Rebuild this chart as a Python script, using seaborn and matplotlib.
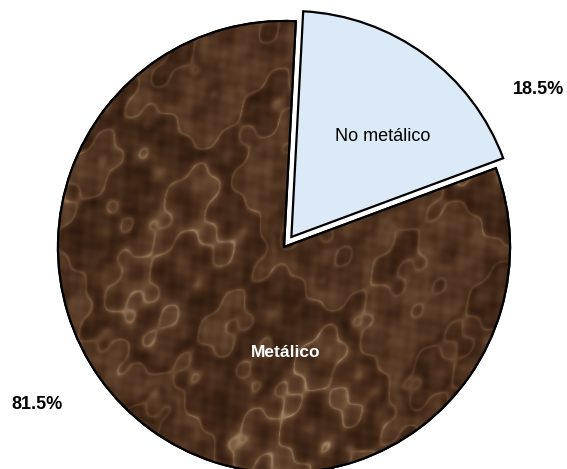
import numpy as np
import matplotlib
matplotlib.use("Agg")
import matplotlib.pyplot as plt
import seaborn as sns
from matplotlib.colors import LinearSegmentedColormap
from matplotlib.patches import Wedge

categories = ["Metálico", "No metálico"]
values = [81.5, 18.5]
pct_labels = ["81.5%", "18.5%"]

sns.set_theme(style="white")
plt.rcParams['font.family'] = ['Liberation Sans', 'DejaVu Sans']

fig = plt.figure(figsize=(5.67, 4.69), dpi=100)
ax = fig.add_axes([0, 0, 1, 1])

colors = ["#5a3d28", "#dce9f7"]
wedges, _ = ax.pie(values, colors=colors, startangle=87, counterclock=True,
                   explode=[0, 0.055],
                   wedgeprops=dict(edgecolor="black", linewidth=1.6))

# marble-like texture for the metallic slice (decorative, deterministic)
xx, yy = np.meshgrid(np.linspace(-1.1, 1.1, 500), np.linspace(-1.1, 1.1, 500))
f = (np.sin(3.1 * xx + 2.3 * yy) + 0.7 * np.sin(5.7 * xx - 4.1 * yy + 1.3)
     + 0.5 * np.sin(9.3 * xx + 7.7 * yy + 0.4) + 0.35 * np.sin(17.1 * xx - 13.3 * yy + 2.1)
     + 0.25 * np.sin(29.0 * xx + 23.0 * yy + 0.9) + 0.2 * np.sin(41.0 * xx - 37.0 * yy + 1.7))
g = (0.5 * np.sin(23.0 * xx + 11.0 * yy) * np.sin(19.0 * yy - 7.0 * xx + 0.5)
     + 0.3 * np.sin(47.0 * xx - 31.0 * yy) * np.sin(37.0 * yy + 29.0 * xx)
     + 0.2 * np.sin(83.0 * xx + 61.0 * yy) * np.sin(71.0 * yy - 53.0 * xx))
veins = 1 - np.abs(np.sin(2.2 * f))
tex = 0.35 * veins ** 4 + 0.4 * (g + 1) / 2 + 0.25 * (np.sin(3 * f) + 1) / 2
cmap = LinearSegmentedColormap.from_list("marble", ["#2e1a0e", "#4a2f1d", "#6a4c34", "#a68868"])
im = ax.imshow(tex, extent=(-1.1, 1.1, -1.1, 1.1), cmap=cmap, origin="lower",
               interpolation="bilinear", zorder=1.5)
im.set_clip_path(wedges[0])
wedges[0].set_zorder(1)
w0 = wedges[0]
edge = Wedge(w0.center, w0.r, w0.theta1, w0.theta2, facecolor="none",
             edgecolor="black", linewidth=1.6, zorder=2)
ax.add_patch(edge)
wedges[1].set_zorder(3)

ax.text(1.124, 0.695, pct_labels[1], ha="center", va="center", fontsize=13,
        fontweight="bold", color="black")
ax.text(-1.093, -0.699, pct_labels[0], ha="center", va="center", fontsize=13,
        fontweight="bold", color="black")
ax.text(0.438, 0.487, categories[1], ha="center", va="center", fontsize=13,
        color="black", zorder=4)
ax.text(0.009, -0.465, categories[0], ha="center", va="center", fontsize=12.5,
        fontweight="bold", color="white", zorder=4)

ax.set_xlim(-284 / 226, 283 / 226)
ax.set_ylim(-222 / 226, 247 / 226)
ax.set_aspect("equal")
ax.axis("off")

fig.savefig("out.png", dpi=100)
